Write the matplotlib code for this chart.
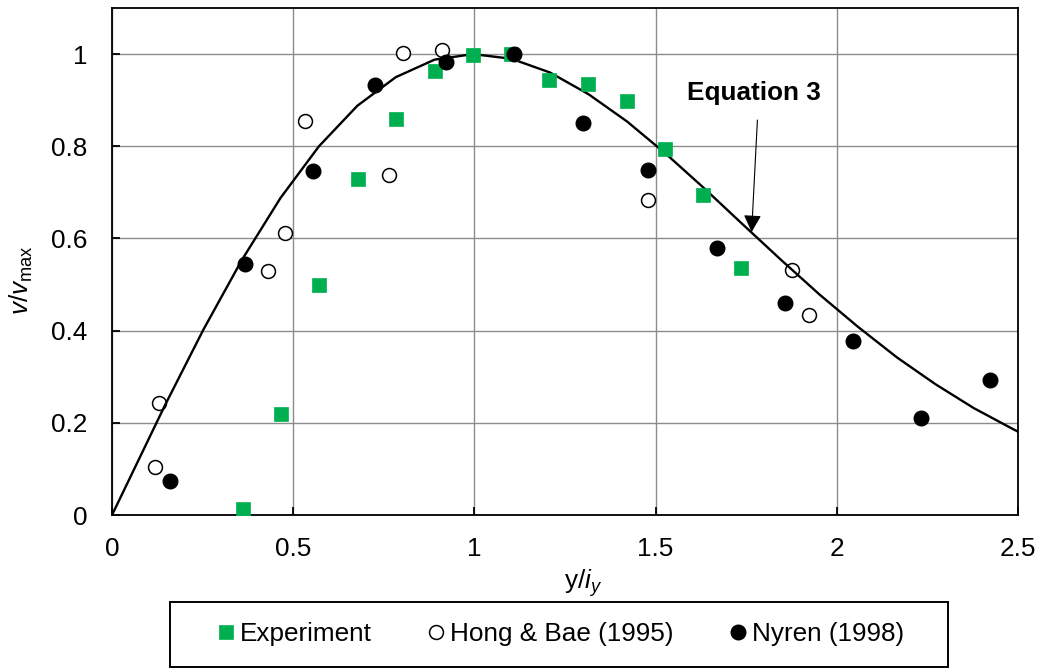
import matplotlib.pyplot as plt
from matplotlib.patches import Rectangle
from matplotlib.ticker import FuncFormatter

plt.rcParams['font.family'] = 'Liberation Sans'
plt.rcParams['mathtext.fontset'] = 'custom'
plt.rcParams['mathtext.rm'] = 'Liberation Sans'
plt.rcParams['mathtext.it'] = 'Liberation Sans:italic'

# Equation 3 curve (y/iy, v/vmax)
eq_x = [0, 0.146, 0.252, 0.358, 0.465, 0.571, 0.677, 0.783, 0.890, 0.996,
        1.102, 1.209, 1.315, 1.421, 1.528, 1.634, 1.740, 1.847, 1.953,
        2.059, 2.166, 2.272, 2.378, 2.485, 2.5]
eq_v = [0, 0.238, 0.402, 0.553, 0.688, 0.800, 0.888, 0.950, 0.988, 1.000,
        0.990, 0.960, 0.913, 0.854, 0.784, 0.709, 0.631, 0.553, 0.478,
        0.408, 0.342, 0.284, 0.232, 0.187, 0.181]

# Experiment
exp_x = [0.361, 0.466, 0.572, 0.678, 0.785, 0.890, 0.995, 1.101, 1.207,
         1.313, 1.420, 1.525, 1.632, 1.737]
exp_v = [0.012, 0.219, 0.500, 0.729, 0.859, 0.963, 0.998, 1.001, 0.944,
         0.936, 0.899, 0.795, 0.694, 0.537]

# Hong & Bae (1995)
hb_x = [0.119, 0.131, 0.431, 0.476, 0.533, 0.763, 0.804, 0.911, 1.479,
        1.876, 1.923]
hb_v = [0.104, 0.244, 0.529, 0.612, 0.855, 0.738, 1.003, 1.009, 0.683,
        0.531, 0.433]

# Nyren (1998)
ny_x = [0.161, 0.366, 0.555, 0.726, 0.922, 1.110, 1.299, 1.480, 1.669,
        1.857, 2.045, 2.233, 2.423]
ny_v = [0.074, 0.545, 0.747, 0.933, 0.983, 1.001, 0.850, 0.748, 0.580,
        0.461, 0.378, 0.210, 0.294]

x_ticks = [0, 0.5, 1, 1.5, 2, 2.5]
y_ticks = [0, 0.2, 0.4, 0.6, 0.8, 1]

fs = 18.8
green = '#00B050'

fig = plt.figure(figsize=(10.43, 6.70), dpi=100)
ax = fig.add_axes([0.1074, 0.2313, 0.8686, 0.7567])

hb, = ax.plot(hb_x, hb_v, 'o', ls='none', ms=10, mfc='white', mec='black',
              mew=1.1, zorder=2)
ax.plot(eq_x, eq_v, color='black', lw=1.7, zorder=2.5)
ex, = ax.plot(exp_x, exp_v, 's', ls='none', ms=10, mfc=green, mec=green,
              mew=0.5, zorder=3)
ny, = ax.plot(ny_x, ny_v, 'o', ls='none', ms=10.5, mfc='black', mec='black',
              zorder=3.5)

ax.annotate('', xy=(1.765, 0.614), xytext=(1.781, 0.857),
            arrowprops=dict(arrowstyle='-|>,head_length=0.7,head_width=0.36',
                            mutation_scale=15, color='black', lw=0.8,
                            shrinkA=0, shrinkB=0), zorder=4)
ax.text(1.586, 0.915, 'Equation 3', fontsize=fs, fontweight='bold',
        ha='left', va='center')

ax.set_xlim(0, 2.5)
ax.set_ylim(0, 1.1)
ax.set_xticks(x_ticks)
ax.set_yticks(y_ticks)
fmt = FuncFormatter(lambda v, p: '{:g}'.format(v))
ax.xaxis.set_major_formatter(fmt)
ax.yaxis.set_major_formatter(fmt)
ax.tick_params(direction='in', length=6, width=1.3, labelsize=fs)
ax.tick_params(axis='y', pad=18)
ax.tick_params(axis='x', pad=16)
ax.grid(color='#8c8c8c', lw=1.0)
ax.set_axisbelow(True)
for s in ax.spines.values():
    s.set_linewidth(1.3)

ax.set_xlabel(r'$\mathrm{y/}i_y$', fontsize=fs)
ax.xaxis.set_label_coords(0.52, -0.1026)
ax.set_ylabel(r'$v/v_{\mathrm{max}}$', fontsize=fs)
ax.yaxis.set_label_coords(-0.085, 0.463)

fig.legend([ex, hb, ny], ['Experiment', 'Hong & Bae (1995)', 'Nyren (1998)'],
           loc='center', bbox_to_anchor=(0.538, 0.0537), ncol=3,
           frameon=False, fontsize=fs, handlelength=0.55, handletextpad=0.27,
           columnspacing=2.18, borderpad=0)
fig.add_artist(Rectangle((0.163, 0.0049), 0.746, 0.097,
                         transform=fig.transFigure, fill=False,
                         ec='black', lw=1.4))

fig.savefig('out.png', dpi=100)
